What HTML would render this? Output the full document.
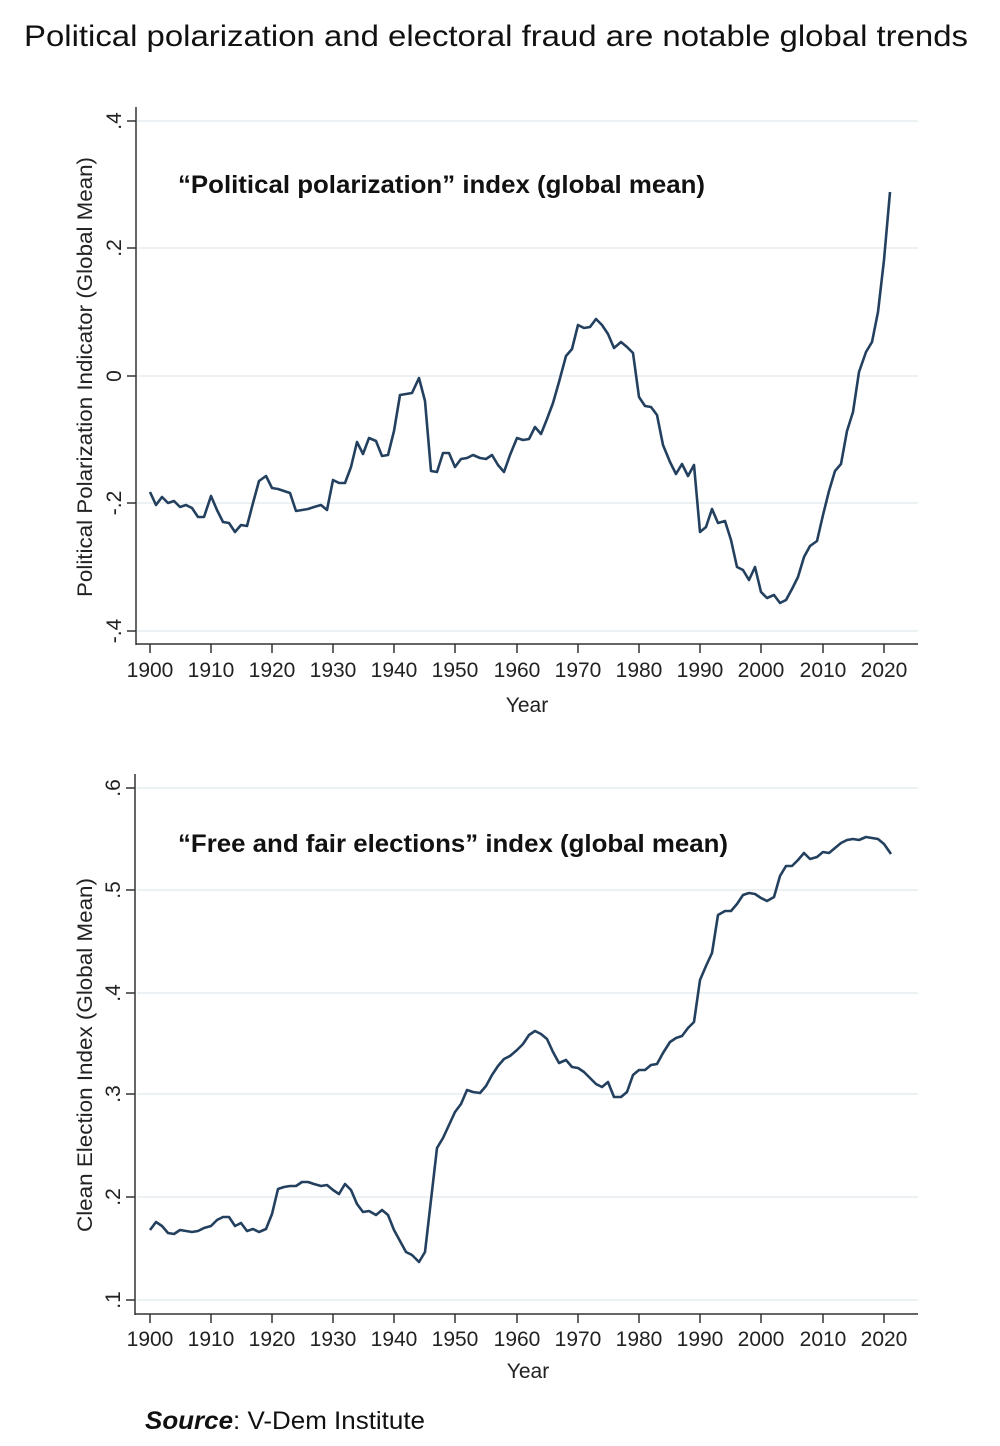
<!DOCTYPE html>
<html><head><meta charset="utf-8"><style>
html,body{margin:0;padding:0;background:#fff;}
svg{display:block;font-family:"Liberation Sans",Arial,sans-serif;}
</style></head><body>
<svg width="1000" height="1446" viewBox="0 0 1000 1446" xmlns="http://www.w3.org/2000/svg">
<rect width="1000" height="1446" fill="#fff"/>
<text x="24" y="46" font-size="30" fill="#111" textLength="944" lengthAdjust="spacingAndGlyphs">Political polarization and electoral fraud are notable global trends</text>

<!-- TOP CHART -->
<g stroke="#e6eef0" stroke-width="1.5">
<line x1="137" y1="121" x2="918" y2="121"/><line x1="137" y1="248" x2="918" y2="248"/>
<line x1="137" y1="376" x2="918" y2="376"/><line x1="137" y1="503" x2="918" y2="503"/>
<line x1="137" y1="631" x2="918" y2="631"/>
</g>
<g stroke="#333" stroke-width="1.5" fill="none">
<line x1="136" y1="107" x2="136" y2="645"/><line x1="136" y1="644" x2="918" y2="644"/>
<line x1="127" y1="121" x2="136" y2="121"/><line x1="127" y1="248" x2="136" y2="248"/>
<line x1="127" y1="376" x2="136" y2="376"/><line x1="127" y1="503" x2="136" y2="503"/>
<line x1="127" y1="631" x2="136" y2="631"/>
<line x1="150" y1="644" x2="150" y2="653"/><line x1="211" y1="644" x2="211" y2="653"/>
<line x1="272" y1="644" x2="272" y2="653"/><line x1="333" y1="644" x2="333" y2="653"/>
<line x1="394" y1="644" x2="394" y2="653"/><line x1="455" y1="644" x2="455" y2="653"/>
<line x1="517" y1="644" x2="517" y2="653"/><line x1="578" y1="644" x2="578" y2="653"/>
<line x1="639" y1="644" x2="639" y2="653"/><line x1="700" y1="644" x2="700" y2="653"/>
<line x1="761" y1="644" x2="761" y2="653"/><line x1="823" y1="644" x2="823" y2="653"/>
<line x1="884" y1="644" x2="884" y2="653"/>
</g>
<g font-size="21" fill="#222" text-anchor="middle">
<text x="150" y="677">1900</text><text x="211" y="677">1910</text><text x="272" y="677">1920</text>
<text x="333" y="677">1930</text><text x="394" y="677">1940</text><text x="455" y="677">1950</text>
<text x="517" y="677">1960</text><text x="578" y="677">1970</text><text x="639" y="677">1980</text>
<text x="700" y="677">1990</text><text x="761" y="677">2000</text><text x="823" y="677">2010</text>
<text x="884" y="677">2020</text>
<text x="527" y="712">Year</text>
<text transform="translate(121,121) rotate(-90)">.4</text>
<text transform="translate(121,248) rotate(-90)">.2</text>
<text transform="translate(121,376) rotate(-90)">0</text>
<text transform="translate(121,503) rotate(-90)">-.2</text>
<text transform="translate(121,631) rotate(-90)">-.4</text>
<text transform="translate(92,377) rotate(-90)" textLength="440" lengthAdjust="spacingAndGlyphs">Political Polarization Indicator (Global Mean)</text>
</g>
<text x="178" y="193" font-size="25" font-weight="bold" fill="#111" textLength="527" lengthAdjust="spacingAndGlyphs">“Political polarization” index (global mean)</text>
<polyline fill="none" stroke="#23405f" stroke-width="2.6" stroke-linejoin="round" points="150,492 156,505 162,497 168,503 174,501 180,507 186,505 192,508 198,517 204,517 211,496 217,510 223,522 229,523 235,532 241,525 247,526 253,503 259,481 266,476 272,488 278,489 284,491 290,493 296,511 302,510 308,509 314,507 321,505 327,510 333,480 339,483 345,483 351,467 357,442 363,454 369,438 376,441 382,456 388,455 394,431 400,395 406,394 412,393 419,378 425,401 431,471 437,472 443,453 449,453 455,467 461,459 467,458 473,455 480,458 486,459 492,455 498,465 504,472 510,455 517,438 523,440 529,439 535,427 541,434 547,419 553,403 559,382 566,356 572,349 578,325 584,328 590,327 596,319 602,325 608,334 614,348 621,342 627,347 633,353 639,397 645,406 651,407 657,415 663,445 670,462 676,474 682,464 688,476 694,465 700,532 706,527 712,509 718,523 725,521 731,540 737,567 743,570 749,580 755,567 761,592 767,598 774,595 780,603 786,600 792,589 798,577 804,557 810,546 817,541 823,515 829,491 835,471 841,464 847,431 853,412 859,372 866,352 872,342 878,312 884,260 890,192"/>

<!-- BOTTOM CHART -->
<g stroke="#e6eef0" stroke-width="1.5">
<line x1="137" y1="788" x2="918" y2="788"/><line x1="137" y1="890" x2="918" y2="890"/>
<line x1="137" y1="993" x2="918" y2="993"/><line x1="137" y1="1094" x2="918" y2="1094"/>
<line x1="137" y1="1197" x2="918" y2="1197"/><line x1="137" y1="1300" x2="918" y2="1300"/>
</g>
<g stroke="#333" stroke-width="1.5" fill="none">
<line x1="135" y1="774" x2="135" y2="1315"/><line x1="135" y1="1314" x2="918" y2="1314"/>
<line x1="126" y1="788" x2="135" y2="788"/><line x1="126" y1="890" x2="135" y2="890"/>
<line x1="126" y1="993" x2="135" y2="993"/><line x1="126" y1="1094" x2="135" y2="1094"/>
<line x1="126" y1="1197" x2="135" y2="1197"/><line x1="126" y1="1300" x2="135" y2="1300"/>
<line x1="150" y1="1314" x2="150" y2="1323"/><line x1="211" y1="1314" x2="211" y2="1323"/>
<line x1="272" y1="1314" x2="272" y2="1323"/><line x1="333" y1="1314" x2="333" y2="1323"/>
<line x1="394" y1="1314" x2="394" y2="1323"/><line x1="455" y1="1314" x2="455" y2="1323"/>
<line x1="517" y1="1314" x2="517" y2="1323"/><line x1="578" y1="1314" x2="578" y2="1323"/>
<line x1="639" y1="1314" x2="639" y2="1323"/><line x1="700" y1="1314" x2="700" y2="1323"/>
<line x1="761" y1="1314" x2="761" y2="1323"/><line x1="823" y1="1314" x2="823" y2="1323"/>
<line x1="884" y1="1314" x2="884" y2="1323"/>
</g>
<g font-size="21" fill="#222" text-anchor="middle">
<text x="150" y="1346">1900</text><text x="211" y="1346">1910</text><text x="272" y="1346">1920</text>
<text x="333" y="1346">1930</text><text x="394" y="1346">1940</text><text x="455" y="1346">1950</text>
<text x="517" y="1346">1960</text><text x="578" y="1346">1970</text><text x="639" y="1346">1980</text>
<text x="700" y="1346">1990</text><text x="761" y="1346">2000</text><text x="823" y="1346">2010</text>
<text x="884" y="1346">2020</text>
<text x="528" y="1378">Year</text>
<text transform="translate(120,788) rotate(-90)">.6</text>
<text transform="translate(120,890) rotate(-90)">.5</text>
<text transform="translate(120,993) rotate(-90)">.4</text>
<text transform="translate(120,1094) rotate(-90)">.3</text>
<text transform="translate(120,1197) rotate(-90)">.2</text>
<text transform="translate(120,1300) rotate(-90)">.1</text>
<text transform="translate(92,1055) rotate(-90)" textLength="354" lengthAdjust="spacingAndGlyphs">Clean Election Index (Global Mean)</text>
</g>
<text x="178" y="852" font-size="25" font-weight="bold" fill="#111" textLength="550" lengthAdjust="spacingAndGlyphs">“Free and fair elections” index (global mean)</text>
<polyline fill="none" stroke="#23405f" stroke-width="2.6" stroke-linejoin="round" points="150,1230 156,1222 162,1226 168,1233 174,1234 180,1230 186,1231 192,1232 198,1231 204,1228 211,1226 217,1220 223,1217 229,1217 235,1226 241,1223 247,1231 253,1229 259,1232 266,1229 272,1214 278,1189 284,1187 290,1186 296,1186 302,1182 308,1182 314,1184 321,1186 327,1185 333,1190 339,1194 345,1184 351,1190 357,1204 363,1212 369,1211 376,1215 382,1210 388,1215 394,1230 400,1241 406,1252 412,1255 419,1262 425,1252 431,1200 437,1148 443,1138 449,1125 455,1112 461,1104 467,1090 473,1092 480,1093 486,1086 492,1075 498,1066 504,1059 510,1056 517,1050 523,1044 529,1035 535,1031 541,1034 547,1039 553,1052 559,1063 566,1060 572,1067 578,1068 584,1072 590,1078 596,1084 602,1087 608,1082 614,1097 621,1097 627,1092 633,1075 639,1070 645,1070 651,1065 657,1064 663,1053 670,1042 676,1038 682,1036 688,1028 694,1022 700,980 706,966 712,953 718,915 725,911 731,911 737,904 743,895 749,893 755,894 761,898 767,901 774,897 780,876 786,866 792,866 798,860 804,853 810,859 817,857 823,852 829,853 835,848 841,843 847,840 853,839 859,840 866,837 872,838 878,839 884,844 891,854"/>

<text x="145" y="1429" font-size="25" fill="#111" textLength="280" lengthAdjust="spacingAndGlyphs"><tspan font-weight="bold" font-style="italic">Source</tspan>: V-Dem Institute</text>
</svg>
</body></html>
